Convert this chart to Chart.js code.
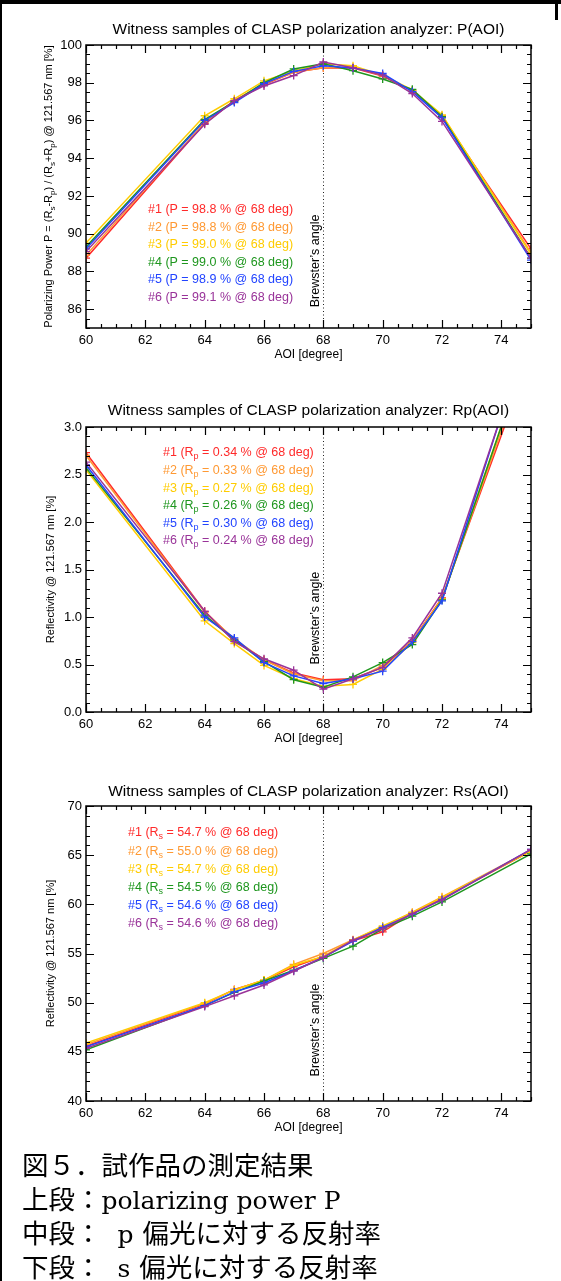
<!DOCTYPE html>
<html><head><meta charset="utf-8">
<script src="https://cdn.jsdelivr.net/npm/chart.js@4.4.1/dist/chart.umd.min.js"></script>
<style>
html,body{margin:0;padding:0;background:#fff;}
#page{position:relative;width:561px;height:1281px;overflow:hidden;background:#fff;}
#page canvas{position:absolute;left:0;}
.bt{position:absolute;left:0;top:0;width:561px;height:4px;background:#000;}
.bl{position:absolute;left:0;top:0;width:2px;height:1281px;background:#000;}
.br{position:absolute;left:555px;top:0;width:3px;height:20px;background:#000;}
#cap{position:absolute;left:22px;top:1147px;font-family:"Noto Sans CJK JP",sans-serif;font-size:26.5px;line-height:34px;color:#000;white-space:nowrap;}
#cap .l{display:block;height:34px;}
#cap .lat{font-family:"DejaVu Serif",serif;font-size:25px;}
#cap .g1{margin-left:16px;}
#cap .g2{margin-left:9px;}
</style></head><body>
<div id="page">
<canvas id="c1" width="561" height="370" style="top:0px"></canvas>
<canvas id="c2" width="561" height="380" style="top:375px"></canvas>
<canvas id="c3" width="561" height="390" style="top:755px"></canvas>
<div class="bt"></div><div class="bl"></div><div class="br"></div>
<div id="cap">
<span class="l">図５．試作品の測定結果</span>
<span class="l">上段：<span class="lat">polarizing power P</span></span>
<span class="l">中段：<span class="lat g1">p</span><span class="g2">偏光に対する反射率</span></span>
<span class="l">下段：<span class="lat g1">s</span><span class="g2">偏光に対する反射率</span></span>
</div>
</div>
<script>
// ---------- data ----------
const aoi = [60, 64, 65, 66, 67, 68, 69, 70, 71, 72, 75];
const sampleNames = ['#1', '#2', '#3', '#4', '#5', '#6'];
const sampleColors = ['#ff2a2a', '#ff9933', '#ffcc00', '#1e961e', '#2244ff', '#993399'];

// Polarizing power P [%]
const p1 = [88.7, 95.85, 97.05, 97.9, 98.55, 98.8, 98.78, 98.35, 97.57, 96.17, 89.2];
const p2 = [88.85, 95.9, 97.05, 97.95, 98.55, 98.8, 98.82, 98.38, 97.57, 96.26, 89.0];
const p3 = [89.5, 96.25, 97.15, 98.1, 98.62, 99.0, 98.9, 98.4, 97.62, 96.3, 88.9];
const p4 = [89.3, 96.05, 97.0, 98.0, 98.73, 99.0, 98.64, 98.2, 97.65, 96.2, 88.7];
const p5 = [89.2, 96.0, 96.95, 97.95, 98.6, 98.9, 98.78, 98.49, 97.53, 96.14, 88.6];
const p6 = [89.05, 95.8, 97.05, 97.83, 98.38, 99.1, 98.8, 98.4, 97.43, 95.95, 88.7];

// Rp [%]
const rp1 = [2.73, 1.06, 0.76, 0.55, 0.41, 0.34, 0.35, 0.47, 0.75, 1.20, 3.77];
const rp2 = [2.70, 1.05, 0.77, 0.55, 0.40, 0.33, 0.33, 0.49, 0.75, 1.19, 3.84];
const rp3 = [2.55, 0.96, 0.72, 0.49, 0.35, 0.27, 0.29, 0.45, 0.73, 1.19, 3.92];
const rp4 = [2.57, 1.02, 0.76, 0.53, 0.34, 0.26, 0.37, 0.52, 0.71, 1.18, 3.92];
const rp5 = [2.60, 1.00, 0.78, 0.52, 0.38, 0.30, 0.35, 0.43, 0.74, 1.17, 4.10];
const rp6 = [2.63, 1.06, 0.74, 0.56, 0.44, 0.24, 0.35, 0.47, 0.78, 1.25, 4.06];

// Rs [%]
const rs1 = [45.6, 49.85, 51.35, 52.25, 53.65, 54.7, 56.3, 57.2, 59.1, 60.6, 65.4];
const rs2 = [45.75, 49.93, 51.3, 52.3, 53.9, 55.0, 56.4, 57.7, 59.2, 60.76, 65.5];
const rs3 = [45.9, 50.0, 51.3, 52.3, 53.8, 54.7, 56.35, 57.8, 59.15, 60.7, 65.4];
const rs4 = [45.2, 49.7, 51.05, 52.2, 53.3, 54.5, 55.75, 57.5, 58.8, 60.25, 65.13];
const rs5 = [45.5, 49.7, 51.1, 52.0, 53.25, 54.6, 56.25, 57.65, 59.0, 60.5, 65.58];
const rs6 = [45.35, 49.6, 50.7, 51.8, 53.2, 54.6, 56.35, 57.5, 59.05, 60.45, 65.58];

// values quoted at 68 deg
const pAt68 = [98.8, 98.8, 99.0, 99.0, 98.9, 99.1];
const rpAt68 = [0.34, 0.33, 0.27, 0.26, 0.30, 0.24];
const rsAt68 = [54.7, 55.0, 54.7, 54.5, 54.6, 54.6];

// tick labels
const xTicks = [60, 62, 64, 66, 68, 70, 72, 74];
const pTicks = [86, 88, 90, 92, 94, 96, 98, 100];
const rpTicks = [0.0, 0.5, 1.0, 1.5, 2.0, 2.5, 3.0];
const rsTicks = [40, 45, 50, 55, 60, 65, 70];

const brewsterAngle = 68;
const brewsterText = "Brewster\u2019s angle";
const xTitle = 'AOI [degree]';

// ---------- helpers ----------
const FONT = '"Liberation Sans", Arial, Helvetica, sans-serif';

function drawRich(ctx, segs, x, y, align, size, color) {
  const subSize = Math.round(size * 0.7);
  let total = 0;
  const widths = segs.map(s => {
    ctx.font = (s[1] ? subSize : size) + 'px ' + FONT;
    const w = ctx.measureText(s[0]).width;
    total += w;
    return w;
  });
  let cx = align === 'center' ? x - total / 2 : x;
  ctx.fillStyle = color;
  ctx.textAlign = 'left';
  ctx.textBaseline = 'middle';
  segs.forEach((s, i) => {
    ctx.font = (s[1] ? subSize : size) + 'px ' + FONT;
    ctx.fillText(s[0], cx, y + (s[1] ? size * 0.32 : 0));
    cx += widths[i];
  });
}

const idlPlugin = {
  id: 'idl',
  beforeDatasetsDraw(chart, args, o) {
    const {ctx, chartArea: a, scales: {x, y}} = chart;
    const bx = Math.round(x.getPixelForValue(brewsterAngle)) + 0.5;
    ctx.save();
    ctx.strokeStyle = '#222';
    ctx.lineWidth = 1;
    ctx.setLineDash([1, 2.5]);
    ctx.beginPath();
    ctx.moveTo(bx, a.top);
    ctx.lineTo(bx, a.bottom);
    ctx.stroke();
    ctx.restore();
  },
  afterDraw(chart, args, o) {
    const {ctx, chartArea: a, scales: {x, y}} = chart;
    ctx.save();
    // Brewster label
    const bx = x.getPixelForValue(brewsterAngle);
    ctx.save();
    ctx.translate(bx - 4.5, y.getPixelForValue(o.brewsterLabelY));
    ctx.rotate(-Math.PI / 2);
    ctx.font = '12.5px ' + FONT;
    ctx.fillStyle = '#000';
    ctx.textAlign = 'left';
    ctx.textBaseline = 'alphabetic';
    ctx.fillText(brewsterText, 0, 0);
    ctx.restore();

    // plot box
    ctx.strokeStyle = '#000';
    ctx.lineWidth = 1.5;
    ctx.strokeRect(a.left, a.top, a.right - a.left, a.bottom - a.top);

    // inward ticks on all 4 sides
    ctx.lineWidth = 1.2;
    ctx.beginPath();
    const nx = Math.round((x.max - x.min) / o.xMinor);
    for (let i = 0; i <= nx; i++) {
      const v = x.min + i * o.xMinor;
      const major = xTicks.some(t => Math.abs(t - v) < 1e-6);
      const len = major ? 8 : 4;
      const px = Math.round(x.getPixelForValue(v)) + 0.5;
      ctx.moveTo(px, a.bottom); ctx.lineTo(px, a.bottom - len);
      ctx.moveTo(px, a.top); ctx.lineTo(px, a.top + len);
    }
    const ny = Math.round((y.max - y.min) / o.yMinor);
    for (let i = 0; i <= ny; i++) {
      const v = y.min + i * o.yMinor;
      const major = o.yMajor.some(t => Math.abs(t - v) < 1e-6);
      const len = major ? 8 : 4;
      const py = Math.round(y.getPixelForValue(v)) + 0.5;
      ctx.moveTo(a.left, py); ctx.lineTo(a.left + len, py);
      ctx.moveTo(a.right, py); ctx.lineTo(a.right - len, py);
    }
    ctx.stroke();

    // in-plot legend
    o.legend.forEach((segs, i) => {
      drawRich(ctx, segs, a.left + o.legendX, a.top + o.legendY + i * o.legendStep, 'left', 12.5, sampleColors[i]);
    });

    // rotated y title
    ctx.save();
    ctx.translate(o.yTitleX, (a.top + a.bottom) / 2);
    ctx.rotate(-Math.PI / 2);
    drawRich(ctx, o.yTitle, 0, 0, 'center', 11, '#000');
    ctx.restore();

    ctx.restore();
  }
};

function makeChart(id, series, yMin, yMax, yTicks, yFmt, titleText, titlePad, layoutPad, plug) {
  const datasets = series.map((vals, i) => ({
    label: sampleNames[i],
    data: aoi.map((a, k) => ({x: a, y: vals[k]})),
    borderColor: sampleColors[i],
    backgroundColor: sampleColors[i],
    borderWidth: 1.5,
    pointStyle: 'cross',
    pointRadius: 4,
    pointBorderWidth: 1.3,
    pointBorderColor: sampleColors[i],
    tension: 0,
    clip: 0,
    order: series.length - i
  }));
  return new Chart(document.getElementById(id), {
    type: 'line',
    data: {datasets},
    plugins: [idlPlugin],
    options: {
      responsive: false,
      devicePixelRatio: 1,
      animation: false,
      layout: {padding: layoutPad},
      plugins: {
        legend: {display: false},
        tooltip: {enabled: false},
        title: {
          display: true, text: titleText, fullSize: false, color: '#000',
          font: {family: FONT, size: 15.5, weight: 'normal', lineHeight: 1.2},
          padding: titlePad
        },
        idl: plug
      },
      scales: {
        x: {
          type: 'linear', min: 60, max: 75,
          grid: {display: false, drawTicks: false},
          border: {display: false},
          afterBuildTicks: s => { s.ticks = xTicks.map(v => ({value: v})); },
          afterFit: s => { s.height = 40; },
          ticks: {autoSkip: false, maxRotation: 0, padding: 5, color: '#000',
                  font: {family: FONT, size: 13}, callback: v => String(v)},
          title: {display: true, text: xTitle, color: '#000',
                  font: {family: FONT, size: 12, lineHeight: 1.2}, padding: {top: 0, bottom: 6}}
        },
        y: {
          type: 'linear', min: yMin, max: yMax,
          grid: {display: false, drawTicks: false},
          border: {display: false},
          afterBuildTicks: s => { s.ticks = yTicks.map(v => ({value: v})); },
          afterFit: s => { s.width = 80; },
          ticks: {autoSkip: false, padding: 4, color: '#000',
                  font: {family: FONT, size: 13}, callback: yFmt}
        }
      }
    }
  });
}

const pLegend = sampleNames.map((n, i) => [[`${n} (P = ${pAt68[i].toFixed(1)} % @ 68 deg)`]]);
const rpLegend = sampleNames.map((n, i) => [[`${n} (R`], ['p', 1], [` = ${rpAt68[i].toFixed(2)} % @ 68 deg)`]]);
const rsLegend = sampleNames.map((n, i) => [[`${n} (R`], ['s', 1], [` = ${rsAt68[i].toFixed(1)} % @ 68 deg)`]]);

makeChart('c1', [p1, p2, p3, p4, p5, p6], 85, 100, pTicks, v => String(v),
  'Witness samples of CLASP polarization analyzer: P(AOI)',
  {top: 10.7, bottom: 5.7}, {left: 6, right: 30, top: 10, bottom: 2},
  {brewsterLabelY: 86.1, xMinor: 0.5, yMinor: 0.5, yMajor: pTicks,
   legend: pLegend, legendX: 62, legendY: 165, legendStep: 17.5, yTitleX: 49,
   yTitle: [['Polarizing Power P = (R'], ['s', 1], ['-R'], ['p', 1], [') / (R'], ['s', 1], ['+R'], ['p', 1], [') @ 121.567 nm [%]']]});

makeChart('c2', [rp1, rp2, rp3, rp4, rp5, rp6], 0, 3, rpTicks, v => Number(v).toFixed(1),
  'Witness samples of CLASP polarization analyzer: Rp(AOI)',
  {top: 16.7, bottom: 6.7}, {left: 6, right: 30, top: 10, bottom: 3},
  {brewsterLabelY: 0.5, xMinor: 0.5, yMinor: 0.1, yMajor: rpTicks,
   legend: rpLegend, legendX: 77, legendY: 26, legendStep: 17.6, yTitleX: 51,
   yTitle: [['Reflectivity @ 121.567 nm [%]']]});

makeChart('c3', [rs1, rs2, rs3, rs4, rs5, rs6], 40, 70, rsTicks, v => String(v),
  'Witness samples of CLASP polarization analyzer: Rs(AOI)',
  {top: 17.7, bottom: 4.7}, {left: 6, right: 30, top: 10, bottom: 4},
  {brewsterLabelY: 42.5, xMinor: 0.5, yMinor: 1, yMajor: rsTicks,
   legend: rsLegend, legendX: 42, legendY: 27, legendStep: 18.2, yTitleX: 51,
   yTitle: [['Reflectivity @ 121.567 nm [%]']]});
</script>
</body></html>
